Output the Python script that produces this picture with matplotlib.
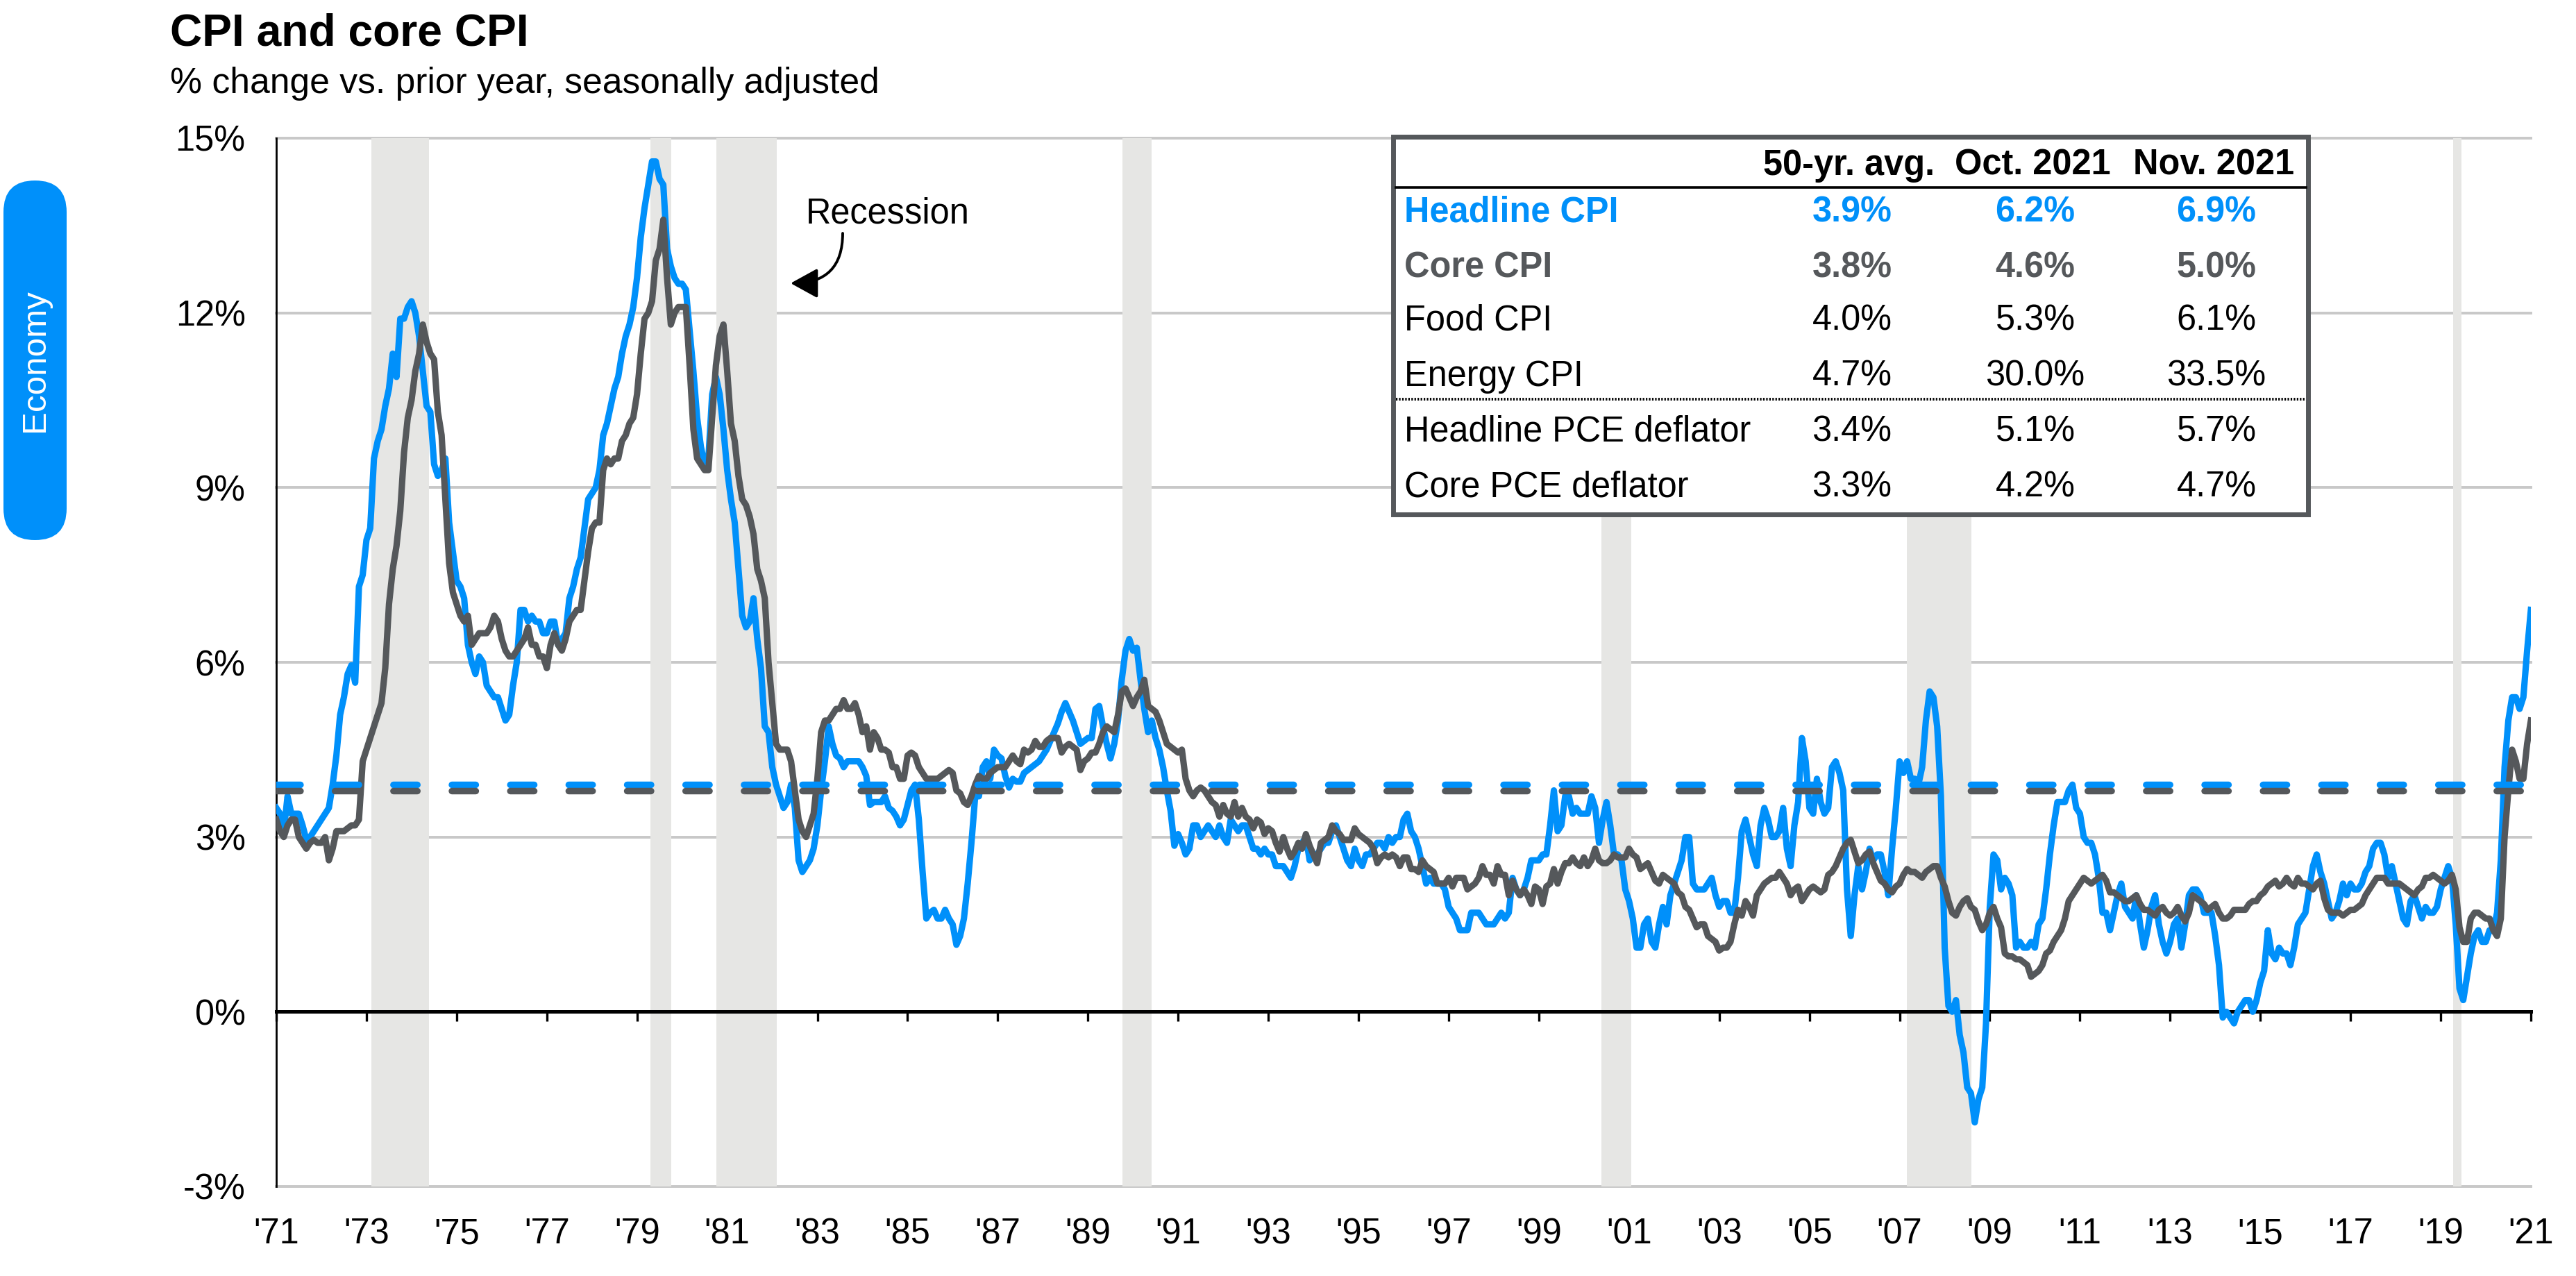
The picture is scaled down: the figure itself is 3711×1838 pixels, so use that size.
import numpy as np
import matplotlib.pyplot as plt
from matplotlib.patches import Rectangle, FancyBboxPatch, FancyArrowPatch
from matplotlib.lines import Line2D

plt.rcParams['font.family'] = ['Liberation Sans', 'DejaVu Sans']
plt.rcParams['lines.scale_dashes'] = False

BLUE = '#0090fa'
GRAY = '#55585b'
SHADE = '#e6e6e4'

# monthly y/y % change, index 0 = Nov '71 ... index 600 = Nov '21
headline_cpi = [
    3.5, 3.4,
    3.1, 3.7, 3.4, 3.4, 3.4, 3.2, 2.95, 3.0, 3.1, 3.2, 3.3, 3.4,          # 1972
    3.5, 3.9, 4.4, 5.1, 5.4, 5.8, 5.95, 5.65, 7.3, 7.5, 8.1, 8.3,         # 1973
    9.5, 9.8, 10.0, 10.4, 10.7, 11.3, 10.9, 11.9, 11.9, 12.1, 12.2, 12.0, # 1974
    11.6, 11.0, 10.4, 10.3, 9.4, 9.2, 9.3, 9.5, 8.4, 7.9, 7.4, 7.3,       # 1975
    7.1, 6.3, 6.0, 5.8, 6.1, 6.0, 5.6, 5.5, 5.4, 5.4, 5.2, 5.0,           # 1976
    5.1, 5.6, 6.0, 6.9, 6.9, 6.7, 6.8, 6.7, 6.7, 6.5, 6.5, 6.7,           # 1977
    6.7, 6.3, 6.4, 6.5, 7.1, 7.3, 7.6, 7.8, 8.3, 8.8, 8.9, 9.0,           # 1978
    9.3, 9.9, 10.1, 10.4, 10.7, 10.9, 11.3, 11.6, 11.8, 12.1, 12.6, 13.3, # 1979
    13.8, 14.2, 14.6, 14.6, 14.3, 14.2, 13.1, 12.8, 12.6, 12.5, 12.5, 12.4,  # 1980
    11.7, 11.0, 10.2, 9.7, 9.4, 9.5, 10.6, 10.9, 10.6, 10.0, 9.3, 8.8,    # 1981
    8.4, 7.6, 6.8, 6.6, 6.7, 7.1, 6.4, 5.9, 4.9, 4.8, 4.2, 3.9,           # 1982
    3.7, 3.5, 3.6, 3.9, 3.5, 2.6, 2.4, 2.5, 2.6, 2.8, 3.2, 3.8,           # 1983
    4.3, 4.9, 4.6, 4.4, 4.35, 4.2, 4.3, 4.3, 4.3, 4.3, 4.2, 4.05,         # 1984
    3.55, 3.6, 3.6, 3.6, 3.7, 3.5, 3.45, 3.35, 3.2, 3.3, 3.55, 3.8,       # 1985
    3.9, 3.3, 2.4, 1.6, 1.7, 1.75, 1.6, 1.6, 1.75, 1.6, 1.5, 1.15,        # 1986
    1.3, 1.6, 2.2, 2.9, 3.7, 3.7, 4.2, 4.3, 4.0, 4.5, 4.4, 4.35,          # 1987
    4.05, 3.85, 4.0, 3.95, 3.95, 4.1, 4.15, 4.2, 4.25, 4.3, 4.4, 4.5,     # 1988
    4.65, 4.8, 4.95, 5.15, 5.3, 5.15, 5.0, 4.8, 4.6, 4.65, 4.7, 4.7,      # 1989
    5.2, 5.25, 4.9, 4.6, 4.35, 4.6, 5.0, 5.7, 6.2, 6.4, 6.2, 6.25,        # 1990
    5.7, 5.2, 4.8, 5.0, 4.7, 4.5, 4.2, 3.8, 3.45, 2.85, 3.05, 2.9,        # 1991
    2.7, 2.8, 3.2, 3.2, 3.0, 3.1, 3.2, 3.1, 3.0, 3.2, 3.0, 2.9,           # 1992
    3.3, 3.2, 3.1, 3.2, 3.2, 3.0, 2.8, 2.8, 2.7, 2.8, 2.7, 2.7,           # 1993
    2.5, 2.5, 2.5, 2.4, 2.3, 2.5, 2.8, 2.9, 3.0, 2.6, 2.7, 2.7,           # 1994
    2.8, 2.9, 2.9, 3.1, 3.2, 3.0, 2.8, 2.6, 2.5, 2.8, 2.6, 2.5,           # 1995
    2.7, 2.7, 2.8, 2.9, 2.9, 2.8, 3.0, 2.9, 3.0, 3.0, 3.3, 3.4,           # 1996
    3.1, 3.0, 2.8, 2.5, 2.2, 2.3, 2.2, 2.2, 2.2, 2.1, 1.8, 1.7,           # 1997
    1.6, 1.4, 1.4, 1.4, 1.7, 1.7, 1.7, 1.6, 1.5, 1.5, 1.5, 1.6,           # 1998
    1.7, 1.6, 1.7, 2.3, 2.1, 2.0, 2.1, 2.3, 2.6, 2.6, 2.6, 2.7,           # 1999
    2.7, 3.2, 3.8, 3.1, 3.2, 3.7, 3.7, 3.4, 3.5, 3.4, 3.4, 3.4,           # 2000
    3.7, 3.5, 2.9, 3.3, 3.6, 3.2, 2.7, 2.7, 2.6, 2.1, 1.9, 1.6,           # 2001
    1.1, 1.1, 1.5, 1.6, 1.2, 1.1, 1.5, 1.8, 1.5, 2.0, 2.2, 2.4,           # 2002
    2.6, 3.0, 3.0, 2.2, 2.1, 2.1, 2.1, 2.2, 2.3, 2.0, 1.8, 1.9,           # 2003
    1.9, 1.7, 1.7, 2.3, 3.1, 3.3, 3.0, 2.7, 2.5, 3.2, 3.5, 3.3,           # 2004
    3.0, 3.0, 3.1, 3.5, 2.8, 2.5, 3.2, 3.6, 4.7, 4.3, 3.5, 3.4,           # 2005
    4.0, 3.6, 3.4, 3.5, 4.2, 4.3, 4.1, 3.8, 2.1, 1.3, 2.0, 2.5,           # 2006
    2.1, 2.4, 2.8, 2.6, 2.7, 2.7, 2.4, 2.0, 2.8, 3.5, 4.3, 4.1,           # 2007
    4.3, 4.0, 4.0, 3.9, 4.2, 5.0, 5.5, 5.4, 4.9, 3.7, 1.1, 0.1,           # 2008
    0.0, 0.2, -0.4, -0.7, -1.3, -1.4, -1.9, -1.5, -1.3, -0.2, 1.8, 2.7,   # 2009
    2.6, 2.1, 2.3, 2.2, 2.0, 1.1, 1.2, 1.1, 1.1, 1.2, 1.1, 1.5,           # 2010
    1.6, 2.1, 2.7, 3.2, 3.6, 3.6, 3.6, 3.8, 3.9, 3.5, 3.4, 3.0,           # 2011
    2.9, 2.9, 2.7, 2.3, 1.7, 1.7, 1.4, 1.7, 2.0, 2.2, 1.8, 1.7,           # 2012
    1.6, 2.0, 1.5, 1.1, 1.4, 1.8, 2.0, 1.5, 1.2, 1.0, 1.2, 1.5,           # 2013
    1.6, 1.1, 1.5, 2.0, 2.1, 2.1, 2.0, 1.7, 1.7, 1.7, 1.3, 0.8,           # 2014
    -0.1, 0.0, -0.1, -0.2, 0.0, 0.1, 0.2, 0.2, 0.0, 0.2, 0.5, 0.7,        # 2015
    1.4, 1.0, 0.9, 1.1, 1.0, 1.0, 0.8, 1.1, 1.5, 1.6, 1.7, 2.1,           # 2016
    2.5, 2.7, 2.4, 2.2, 1.9, 1.6, 1.7, 1.9, 2.2, 2.0, 2.2, 2.1,           # 2017
    2.1, 2.2, 2.4, 2.5, 2.8, 2.9, 2.9, 2.7, 2.3, 2.5, 2.2, 1.9,           # 2018
    1.6, 1.5, 1.9, 2.0, 1.8, 1.6, 1.8, 1.7, 1.7, 1.8, 2.1, 2.3,           # 2019
    2.5, 2.3, 1.5, 0.4, 0.2, 0.6, 1.0, 1.3, 1.4, 1.2, 1.2, 1.4,           # 2020
    1.4, 1.7, 2.6, 4.2, 5.0, 5.4, 5.4, 5.2, 5.4, 6.2, 6.9,                # 2021
]

core_cpi = [
    3.3, 3.1,
    3.0, 3.2, 3.3, 3.3, 3.0, 2.9, 2.8, 2.9, 2.95, 2.9, 2.9, 3.0,          # 1972
    2.6, 2.8, 3.1, 3.1, 3.1, 3.15, 3.2, 3.2, 3.3, 4.3, 4.5, 4.7,          # 1973
    4.9, 5.1, 5.3, 5.9, 7.0, 7.6, 8.0, 8.6, 9.6, 10.2, 10.5, 11.0,        # 1974
    11.3, 11.8, 11.5, 11.3, 11.2, 10.3, 9.9, 8.8, 7.7, 7.2, 7.0, 6.8,     # 1975
    6.7, 6.8, 6.3, 6.4, 6.5, 6.5, 6.5, 6.6, 6.8, 6.7, 6.4, 6.2,           # 1976
    6.1, 6.1, 6.2, 6.3, 6.4, 6.6, 6.3, 6.3, 6.1, 6.1, 5.9, 6.3,           # 1977
    6.5, 6.3, 6.2, 6.4, 6.7, 6.8, 6.9, 6.9, 7.4, 7.9, 8.3, 8.4,           # 1978
    8.4, 9.3, 9.5, 9.4, 9.5, 9.5, 9.8, 9.9, 10.1, 10.2, 10.6, 11.3,       # 1979
    11.9, 12.0, 12.2, 12.9, 13.1, 13.6, 12.6, 11.8, 12.0, 12.1, 12.1, 12.1,  # 1980
    11.1, 10.0, 9.5, 9.4, 9.3, 9.3, 10.2, 11.1, 11.6, 11.8, 11.0, 10.1,   # 1981
    9.8, 9.2, 8.8, 8.7, 8.5, 8.2, 7.6, 7.4, 7.1, 6.0, 5.3, 4.6,           # 1982
    4.5, 4.5, 4.5, 4.3, 3.8, 3.3, 3.1, 3.0, 3.2, 3.4, 4.0, 4.8,           # 1983
    5.0, 5.0, 5.1, 5.2, 5.2, 5.35, 5.2, 5.2, 5.3, 5.1, 4.8, 4.9,          # 1984
    4.5, 4.8, 4.7, 4.5, 4.5, 4.45, 4.2, 4.2, 4.0, 4.0, 4.4, 4.45,         # 1985
    4.4, 4.2, 4.1, 4.0, 4.0, 4.0, 4.0, 4.05, 4.1, 4.15, 4.1, 3.8,         # 1986
    3.75, 3.6, 3.55, 3.7, 3.9, 4.05, 4.0, 4.0, 4.1, 4.15, 4.2, 4.2,       # 1987
    4.2, 4.3, 4.4, 4.3, 4.25, 4.5, 4.45, 4.5, 4.65, 4.55, 4.55, 4.65,     # 1988
    4.7, 4.7, 4.7, 4.45, 4.55, 4.6, 4.55, 4.5, 4.15, 4.3, 4.35, 4.45,     # 1989
    4.45, 4.6, 4.8, 4.9, 4.85, 4.8, 5.1, 5.5, 5.55, 5.4, 5.25, 5.4,       # 1990
    5.5, 5.7, 5.25, 5.2, 5.15, 5.0, 4.8, 4.6, 4.55, 4.5, 4.45, 4.5,       # 1991
    4.0, 3.8, 3.7, 3.8, 3.85, 3.8, 3.7, 3.6, 3.55, 3.35, 3.55, 3.4,       # 1992
    3.35, 3.6, 3.35, 3.5, 3.35, 3.3, 3.15, 3.3, 3.25, 3.05, 3.15, 3.1,    # 1993
    2.9, 2.75, 3.0, 2.8, 2.65, 2.75, 2.9, 2.8, 3.05, 2.85, 2.7, 2.55,     # 1994
    2.9, 2.95, 3.0, 3.2, 3.1, 3.05, 2.95, 2.95, 2.95, 3.15, 3.05, 3.0,    # 1995
    2.95, 2.9, 2.8, 2.55, 2.65, 2.7, 2.65, 2.7, 2.65, 2.5, 2.65, 2.65,    # 1996
    2.45, 2.45, 2.4, 2.6, 2.5, 2.45, 2.4, 2.2, 2.2, 2.2, 2.3, 2.15,       # 1997
    2.3, 2.3, 2.3, 2.1, 2.15, 2.2, 2.3, 2.5, 2.35, 2.35, 2.2, 2.5,        # 1998
    2.35, 2.35, 2.0, 2.25, 2.1, 2.0, 2.1, 2.0, 1.85, 2.15, 2.1, 1.85,     # 1999
    2.15, 2.2, 2.45, 2.2, 2.4, 2.55, 2.55, 2.65, 2.55, 2.5, 2.65, 2.5,    # 2000
    2.6, 2.8, 2.6, 2.55, 2.55, 2.6, 2.7, 2.65, 2.65, 2.65, 2.8, 2.7,      # 2001
    2.65, 2.45, 2.5, 2.55, 2.4, 2.25, 2.2, 2.35, 2.3, 2.25, 2.2, 2.05,    # 2002
    2.0, 1.8, 1.75, 1.6, 1.45, 1.5, 1.5, 1.3, 1.25, 1.2, 1.05, 1.1,       # 2003
    1.1, 1.2, 1.5, 1.75, 1.65, 1.9, 1.8, 1.65, 2.0, 2.1, 2.2, 2.25,       # 2004
    2.3, 2.3, 2.4, 2.3, 2.2, 2.0, 2.1, 2.15, 1.9, 2.0, 2.1, 2.15,         # 2005
    2.1, 2.05, 2.1, 2.35, 2.4, 2.5, 2.65, 2.8, 2.9, 2.95, 2.75, 2.55,     # 2006
    2.6, 2.7, 2.75, 2.55, 2.4, 2.25, 2.2, 2.1, 2.05, 2.15, 2.2, 2.35,     # 2007
    2.45, 2.4, 2.4, 2.35, 2.3, 2.4, 2.45, 2.5, 2.5, 2.3, 2.15, 1.9,       # 2008
    1.7, 1.65, 1.8, 1.9, 1.95, 1.8, 1.75, 1.55, 1.4, 1.5, 1.7, 1.8,       # 2009
    1.6, 1.45, 1.0, 0.95, 0.95, 0.9, 0.9, 0.85, 0.8, 0.6, 0.65, 0.7,      # 2010
    0.8, 1.0, 1.05, 1.2, 1.3, 1.4, 1.6, 1.9, 2.0, 2.1, 2.2, 2.3,          # 2011
    2.25, 2.2, 2.25, 2.3, 2.35, 2.25, 2.05, 2.05, 2.0, 1.95, 1.9, 1.9,    # 2012
    1.95, 2.0, 1.85, 1.75, 1.75, 1.7, 1.65, 1.75, 1.8, 1.7, 1.65, 1.7,    # 2013
    1.8, 1.65, 1.55, 1.7, 2.0, 1.95, 1.9, 1.85, 1.75, 1.8, 1.85, 1.7,     # 2014
    1.6, 1.6, 1.65, 1.75, 1.75, 1.75, 1.75, 1.85, 1.9, 1.9, 2.0, 2.05,    # 2015
    2.15, 2.2, 2.25, 2.15, 2.2, 2.3, 2.2, 2.15, 2.3, 2.2, 2.2, 2.15,      # 2016
    2.1, 2.2, 2.25, 1.95, 1.75, 1.7, 1.7, 1.7, 1.65, 1.7, 1.75, 1.75,     # 2017
    1.8, 1.85, 2.0, 2.1, 2.2, 2.3, 2.3, 2.3, 2.2, 2.2, 2.2, 2.2,          # 2018
    2.15, 2.1, 2.05, 2.0, 2.1, 2.15, 2.3, 2.3, 2.35, 2.3, 2.25, 2.2,      # 2019
    2.25, 2.35, 2.1, 1.45, 1.2, 1.2, 1.6, 1.7, 1.7, 1.65, 1.6, 1.6,       # 2020
    1.4, 1.3, 1.6, 3.0, 3.8, 4.5, 4.3, 4.0, 4.0, 4.6, 5.0,                # 2021
]

# recession shading, in month-index units of the x axis
recession_start = [25.3, 99.6, 117.2, 225.1, 352.7, 434.0, 579.3]
recession_end = [40.6, 105.2, 133.1, 232.9, 360.5, 451.2, 581.5]

year_labels = ["'%02d" % (y % 100) for y in range(1971, 2022, 2)]
year_ticks = list(range(0, 601, 24))

table_rows = ['Headline CPI', 'Core CPI', 'Food CPI', 'Energy CPI',
              'Headline PCE deflator', 'Core PCE deflator']
table_cols = ['50-yr. avg.', 'Oct. 2021', 'Nov. 2021']
avg_50yr = [3.9, 3.8, 4.0, 4.7, 3.4, 3.3]
oct_2021 = [6.2, 4.6, 5.3, 30.0, 5.1, 4.2]
nov_2021 = [6.9, 5.0, 6.1, 33.5, 5.7, 4.7]

FS = 18.2

W, H = 3712, 1838
fig = plt.figure(figsize=(W / 200, H / 200), dpi=200)

def fx(px):
    return px / W

def fy(py):
    return 1 - py / H

ax = fig.add_axes([fx(398), fy(1709), fx(3646) - fx(398), fy(199) - fy(1709)])
ax.set_xlim(0, 600)
ax.set_ylim(-3, 15)

ax.set_yticks(range(-3, 16, 3))
ax.set_yticklabels(['%d%%' % v for v in range(-3, 16, 3)])
ax.yaxis.grid(True, color='#c8c8c8', lw=1.4)
ax.set_axisbelow(True)
for gl in ax.get_ygridlines():
    gl.set_clip_on(False)
ax.tick_params(axis='y', length=0, pad=16, labelsize=FS)

for s, e in zip(recession_start, recession_end):
    ax.axvspan(s, e, color=SHADE, lw=0, zorder=1)

x = np.arange(len(headline_cpi))
ax.plot(x, headline_cpi, color=BLUE, lw=3.3, solid_joinstyle='round', zorder=3)
x2 = np.arange(len(core_cpi))
ax.plot(x2, core_cpi, color=GRAY, lw=3.3, solid_joinstyle='round', zorder=3.1)

ax.axhline(avg_50yr[0], color=BLUE, lw=3.4, dashes=(12.4, 17.9),
           dash_capstyle='round', zorder=4)
ax.axhline(avg_50yr[1], color=GRAY, lw=3.4, dashes=(12.4, 17.9),
           dash_capstyle='round', zorder=4.1)

ax.spines['top'].set_visible(False)
ax.spines['right'].set_visible(False)
ax.spines['left'].set_linewidth(1.0)
ax.spines['bottom'].set_position(('data', 0))
ax.spines['bottom'].set_linewidth(1.8)

ax.set_xticks(year_ticks)
ax.tick_params(axis='x', length=5, width=1.2, direction='out', labelbottom=False)

sec = ax.secondary_xaxis('bottom')
sec.set_xticks(year_ticks)
sec.set_xticklabels(year_labels)
sec.tick_params(length=0, pad=16, labelsize=FS)
sec.spines['bottom'].set_visible(False)

# titles
fig.text(fx(245), fy(66), 'CPI and core CPI', fontsize=23.1, fontweight='bold', va='baseline')
fig.text(fx(245), fy(134), '% change vs. prior year, seasonally adjusted', fontsize=18.6, va='baseline')

# side tab
pill = FancyBboxPatch((0.025, 5.30), 0.455, 2.59, boxstyle='round,pad=0,rounding_size=0.2275',
                      transform=fig.dpi_scale_trans, fc=BLUE, ec='none')
fig.add_artist(pill)
fig.text(0.2525, 6.595, 'Economy', transform=fig.dpi_scale_trans, rotation=90,
         color='white', fontsize=17.8, ha='center', va='center')

# recession note
fig.text(fx(1161), fy(321), 'Recession', fontsize=FS, va='baseline')
arr = FancyArrowPatch(posA=(fx(1214), fy(336)), posB=(fx(1139), fy(408)),
                      transform=fig.transFigure,
                      arrowstyle='-|>,head_length=0.4,head_width=0.22',
                      mutation_scale=30, connectionstyle='angle3,angleA=-90,angleB=0',
                      color='black', lw=1.4, shrinkA=0, shrinkB=0)
fig.add_artist(arr)

# table box
box = Rectangle((fx(2007), fy(740.5)), fx(3325.5) - fx(2007), fy(197) - fy(740.5),
                transform=fig.transFigure, fc='white', ec=GRAY, lw=2.5, zorder=5)
fig.add_artist(box)
fig.add_artist(Line2D([fx(2011), fx(3322)], [fy(270)] * 2, transform=fig.transFigure,
                      color='black', lw=1.3, zorder=6))
fig.add_artist(Line2D([fx(2011), fx(3322)], [fy(575)] * 2, transform=fig.transFigure,
                      color='black', lw=1.4, dashes=(0.8, 0.8), zorder=6))

col_x = [2664, 2928, 3189]
for cx, name in zip(col_x, table_cols):
    fig.text(fx(cx), fy(252), name, fontsize=FS, fontweight='bold', ha='center',
             va='baseline', zorder=7)

row_base = [320, 400, 476, 556, 636, 715]
row_color = [BLUE, GRAY, 'black', 'black', 'black', 'black']
row_weight = ['bold', 'bold', 'normal', 'normal', 'normal', 'normal']
for i, name in enumerate(table_rows):
    fig.text(fx(2023), fy(row_base[i]), name, fontsize=FS, color=row_color[i],
             fontweight=row_weight[i], va='baseline', zorder=7)
    for cx, vals in zip(col_x, [avg_50yr, oct_2021, nov_2021]):
        fig.text(fx(cx + 4), fy(row_base[i]), '%.1f%%' % vals[i], fontsize=FS,
                 color=row_color[i], fontweight=row_weight[i], ha='center',
                 va='baseline', zorder=7)

fig.savefig('out.png', dpi=200)
